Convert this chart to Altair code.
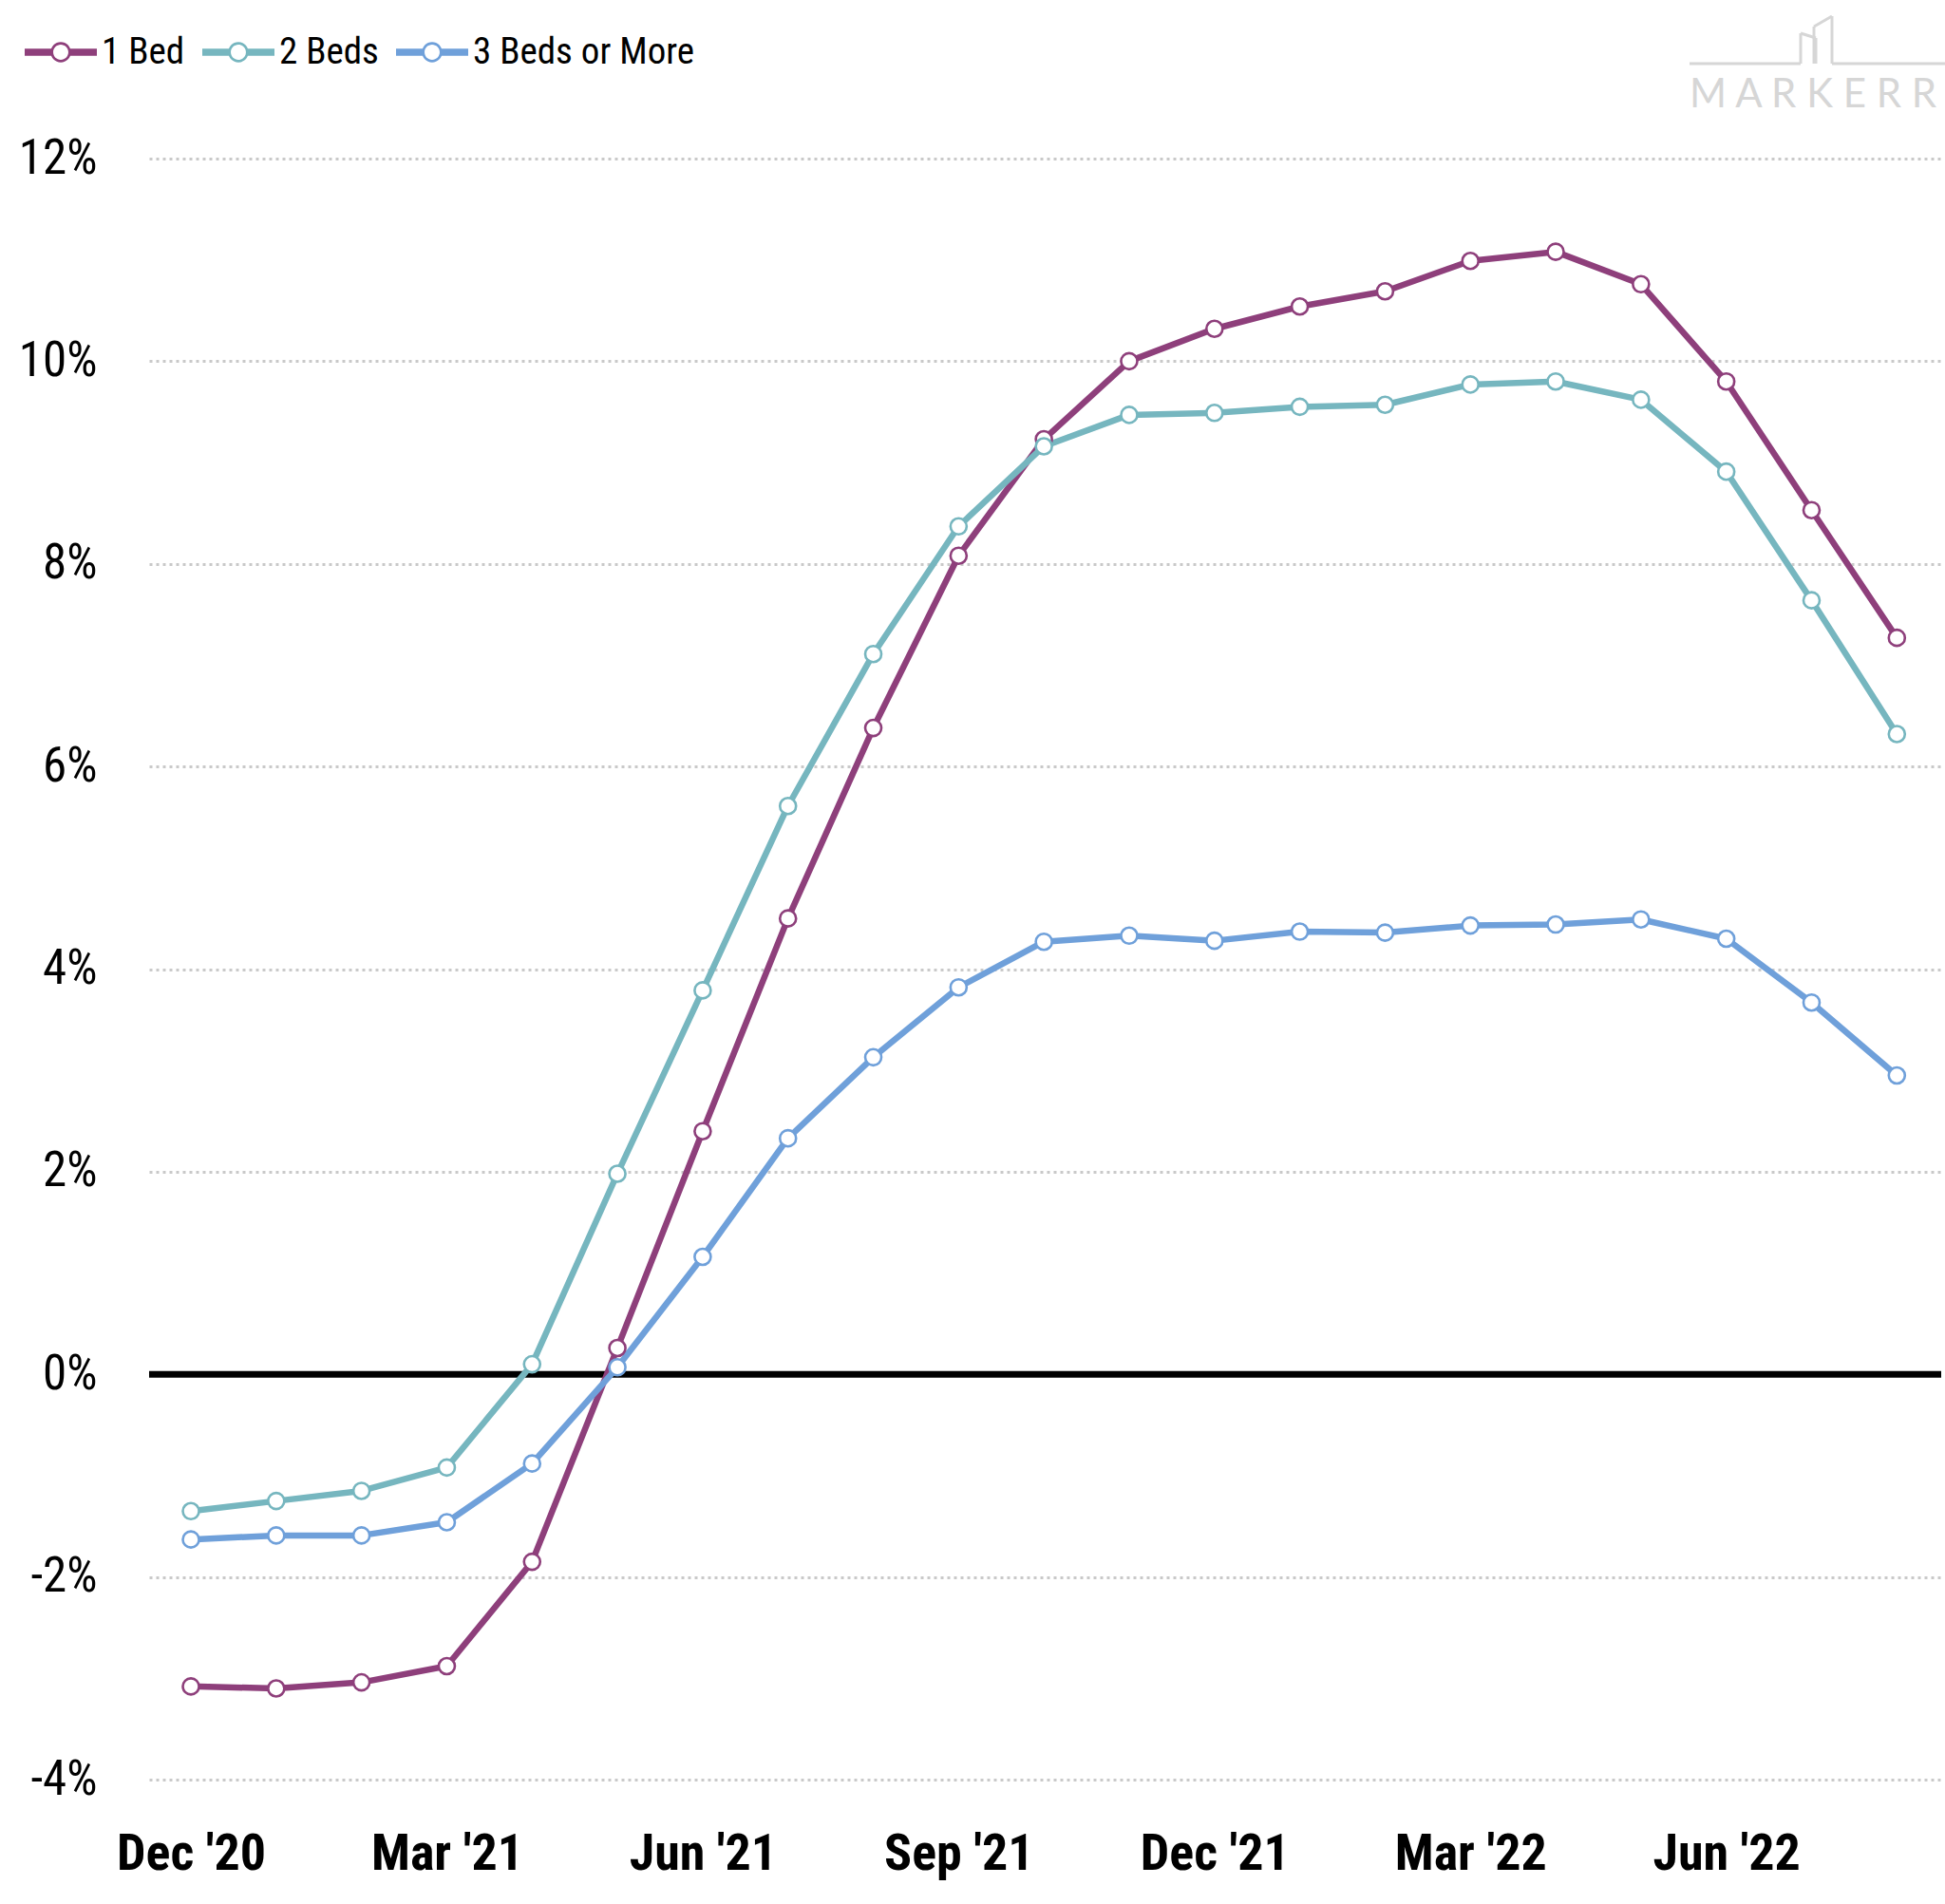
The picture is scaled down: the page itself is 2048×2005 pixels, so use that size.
import json
import altair as alt
import pandas as pd

# ---- data -------------------------------------------------------------
months = ["Dec '20", "Jan '21", "Feb '21", "Mar '21", "Apr '21", "May '21", "Jun '21",
          "Jul '21", "Aug '21", "Sep '21", "Oct '21", "Nov '21", "Dec '21", "Jan '22",
          "Feb '22", "Mar '22", "Apr '22", "May '22", "Jun '22", "Jul '22", "Aug '22"]

series_names = ["1 Bed", "2 Beds", "3 Beds or More"]
series_colors = ["#8E3F7B", "#76B6BF", "#6FA0DA"]

bed1 = [-3.08, -3.10, -3.04, -2.88, -1.85, 0.26, 2.40, 4.50, 6.38, 8.08, 9.23,
        10.00, 10.32, 10.54, 10.69, 10.99, 11.08, 10.76, 9.80, 8.53, 7.27]
bed2 = [-1.35, -1.25, -1.15, -0.92, 0.10, 1.98, 3.79, 5.61, 7.11, 8.37, 9.16,
        9.47, 9.49, 9.55, 9.57, 9.77, 9.80, 9.62, 8.91, 7.64, 6.32]
bed3 = [-1.63, -1.59, -1.59, -1.46, -0.88, 0.07, 1.16, 2.33, 3.13, 3.82, 4.27,
        4.33, 4.28, 4.37, 4.36, 4.43, 4.44, 4.49, 4.30, 3.67, 2.95]

x_tick_values = [0, 3, 6, 9, 12, 15, 18]
x_tick_labels = ["Dec '20", "Mar '21", "Jun '21", "Sep '21", "Dec '21", "Mar '22", "Jun '22"]
y_tick_values = [-4, -2, 0, 2, 4, 6, 8, 10, 12]

rows = []
for name, vals in zip(series_names, [bed1, bed2, bed3]):
    for i, (m, v) in enumerate(zip(months, vals)):
        rows.append({"idx": i, "month": m, "series": name, "value": v})
df = pd.DataFrame(rows)

# ---- layout -----------------------------------------------------------
PAD_L, PAD_T, PAD_R, PAD_B = 157, 167, 4, 131
W, H = 2048 - PAD_L - PAD_R, 2005 - PAD_T - PAD_B

NARROW = "Liberation Sans Narrow, Roboto Condensed, DejaVu Sans Condensed, Roboto"

label_expr = json.dumps(x_tick_labels) + "[datum.value / 3]"

x_scale = alt.Scale(domain=[-0.49, 20.52], nice=False, zero=False)
y_scale = alt.Scale(domain=[-4, 12], nice=False, zero=False)

x_axis = alt.Axis(values=x_tick_values, labelExpr=label_expr, title=None,
                  grid=False, domain=False, ticks=False,
                  labelFont=NARROW, labelFontWeight="bold", labelFontSize=54,
                  labelColor="black", labelBaseline="alphabetic",
                  labelPadding=94, labelFlush=False, labelOverlap=False)
y_axis = alt.Axis(values=y_tick_values, labelExpr="datum.value + '%'", title=None,
                  grid=True, gridDash=[3, 4], gridColor="#c9c9c9", gridWidth=3,
                  domain=False, ticks=False,
                  labelFont=NARROW, labelFontSize=51, labelColor="black",
                  labelPadding=55)

x_enc = alt.X("idx:Q", scale=x_scale, axis=x_axis)
y_enc = alt.Y("value:Q", scale=y_scale, axis=y_axis)

# line/point colour scales use the reversed order (same mapping) so that
# their (hidden) legends are not merged with the visible legend below
color_scale_rev = alt.Scale(domain=series_names[::-1], range=series_colors[::-1])
fill_scale = alt.Scale(domain=series_names, range=series_colors)

base = alt.Chart(df)

zero_rule = alt.Chart(pd.DataFrame({"z": [0]})).mark_rule(
    color="black", strokeWidth=7
).encode(y=alt.Y("z:Q", scale=y_scale, axis=y_axis))

lines = base.mark_line(strokeWidth=6.5, strokeJoin="round", strokeCap="round").encode(
    x=x_enc, y=y_enc,
    color=alt.Color("series:N", scale=color_scale_rev, legend=None),
    order=alt.Order("idx:Q"),
)

points = base.mark_point(filled=False, fill="white", fillOpacity=1, size=290,
                         strokeWidth=2.6, opacity=1).encode(
    x=x_enc, y=y_enc,
    stroke=alt.Stroke("series:N", scale=color_scale_rev, legend=None),
)

# legend symbol: line with hollow ring (ring made by opposite winding)
sym_path = ("M-1,-0.1H-0.25V0.1H-1Z"
            "M0.25,-0.1H1V0.1H0.25Z"
            "M0.28,0A0.28,0.28,0,1,1,-0.28,0A0.28,0.28,0,1,1,0.28,0Z"
            "M0.21,0A0.21,0.21,0,1,0,-0.21,0A0.21,0.21,0,1,0,0.21,0Z")

legend_layer = base.transform_filter("false").mark_point(filled=True).encode(
    x=x_enc, y=y_enc,
    fill=alt.Fill("series:N", scale=fill_scale,
                  legend=alt.Legend(title=None, orient="none", direction="horizontal",
                                    legendX=26 - PAD_L, legendY=17 - PAD_T,
                                    symbolType=sym_path, symbolSize=5776,
                                    symbolStrokeWidth=0, symbolOpacity=1,
                                    labelFont=NARROW, labelFontSize=39, labelLimit=0,
                                    labelColor="black", labelOffset=5,
                                    columnPadding=18, padding=0)),
)

# ---- logo (decoration) ------------------------------------------------
LOGO_GREY = "#d6d6d6"
one = pd.DataFrame({"a": [0]})
logo_segments = [
    (1779, 67, 1896, 67), (1896, 67, 1896, 35), (1896, 35, 1912, 40),
    (1912, 40, 1912, 67), (1910, 67, 1910, 28), (1910, 28, 1929, 17),
    (1929, 17, 1929, 67), (1929, 67, 2048, 67),
]
logo_layers = []
for (xa, ya, xb, yb) in logo_segments:
    logo_layers.append(
        alt.Chart(one).mark_rule(color=LOGO_GREY, strokeWidth=3).encode(
            x=alt.value(xa - PAD_L), y=alt.value(ya - PAD_T),
            x2=alt.value(xb - PAD_L), y2=alt.value(yb - PAD_T))
    )
logo_text = alt.Chart(one).mark_text(
    text="\u00a0".join("MARKERR"), font="Lato", fontSize=42,
    color=LOGO_GREY, align="left", baseline="alphabetic"
).encode(x=alt.value(1779 - PAD_L), y=alt.value(113 - PAD_T))

chart = alt.layer(
    zero_rule, lines, points, legend_layer, *logo_layers, logo_text
).properties(
    width=W, height=H,
    autosize=alt.AutoSizeParams(type="none"),
    padding={"left": PAD_L, "top": PAD_T, "right": PAD_R, "bottom": PAD_B},
    background="white",
).configure_view(stroke=None)

chart.save("out.html", embed_options={"renderer": "svg", "actions": False})
